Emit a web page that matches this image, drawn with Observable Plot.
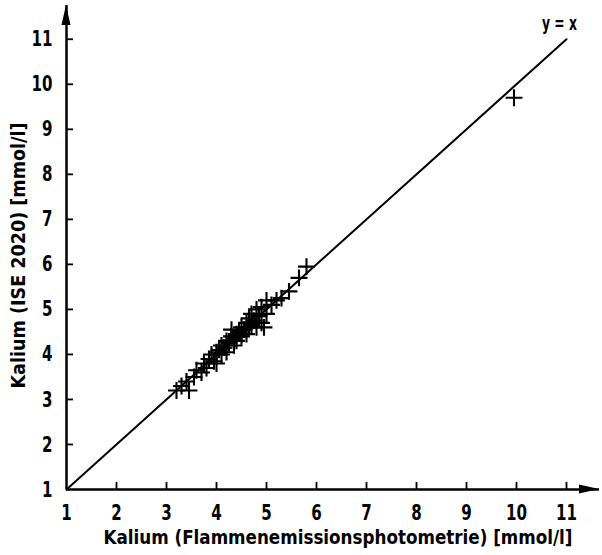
<!DOCTYPE html>
<html>
<head>
<meta charset="utf-8">
<script src="https://cdn.jsdelivr.net/npm/d3@7"></script>
<script src="https://cdn.jsdelivr.net/npm/@observablehq/plot@0.6"></script>
<style>
  html, body { margin: 0; padding: 0; background: #fff; }
  #chart svg { display: block; }
</style>
</head>
<body>
<div id="chart"></div>
<script>
// ---- data ----
const flammeX = [3.2, 3.3, 3.45, 3.4, 3.55, 3.6, 3.7, 3.75, 3.8, 3.85, 3.9, 3.95, 4.0, 4.0, 4.05, 4.1, 4.1, 4.15, 4.2, 4.2,
                 4.25, 4.3, 4.3, 4.35, 4.35, 4.4, 4.4, 4.45, 4.5, 4.5, 4.55, 4.6, 4.6, 4.65, 4.65, 4.7, 4.7, 4.75, 4.8, 4.8,
                 4.85, 4.9, 4.9, 4.95, 5.0, 5.0, 5.1, 5.2, 5.3, 5.45, 5.65, 5.8, 9.95];
const iseY    = [3.2, 3.3, 3.2, 3.4, 3.5, 3.65, 3.6, 3.8, 3.7, 3.9, 4.0, 3.85, 3.8, 4.05, 4.1, 4.0, 4.2, 4.15, 4.3, 4.05,
                 4.25, 4.4, 4.55, 4.2, 4.35, 4.45, 4.3, 4.5, 4.4, 4.6, 4.55, 4.45, 4.7, 4.6, 4.8, 4.65, 4.9, 4.75, 4.6, 5.0,
                 4.85, 4.7, 5.05, 4.6, 4.9, 5.2, 5.1, 5.2, 5.25, 5.4, 5.7, 5.95, 9.7];
const identityLine = [1, 11];
const xTicks = [1, 2, 3, 4, 5, 6, 7, 8, 9, 10, 11];
const yTicks = [1, 2, 3, 4, 5, 6, 7, 8, 9, 10, 11];
const xDomain = [1, 11.66];
const yDomain = [1, 11.75];
const xTitle = "Kalium (Flammenemissionsphotometrie) [mmol/l]";
const yTitle = "Kalium (ISE 2020) [mmol/l]";
const lineLabel = "y = x";

// ---- build ----
const points = flammeX.map((x, i) => ({x, y: iseY[i]}));
const linePts = identityLine.map(v => ({x: v, y: v}));

const W = 602, H = 555;
const mL = 66, mR = 3, mT = 5, mB = 66;
const plotW = W - mL - mR, plotH = H - mT - mB;
const font = "'DejaVu Sans', sans-serif";

function arrowHeads(index, scales) {
  const x0 = scales.x(xDomain[0]), x1 = scales.x(xDomain[1]);
  const y0 = scales.y(yDomain[0]), y1 = scales.y(yDomain[1]);
  const g = d3.create("svg:g").attr("fill", "black");
  g.append("path").attr("d", `M${x1},${y0}L${x1 - 20},${y0 - 4.5}L${x1 - 20},${y0 + 4.5}Z`);
  g.append("path").attr("d", `M${x0},${y1}L${x0 - 4.5},${y1 + 20}L${x0 + 4.5},${y1 + 20}Z`);
  return g.node();
}

const chart = Plot.plot({
  width: W, height: H,
  marginLeft: mL, marginRight: mR, marginTop: mT, marginBottom: mB,
  style: {fontFamily: font, fontWeight: "bold", color: "black", background: "white"},
  x: {domain: xDomain},
  y: {domain: yDomain},
  marks: [
    Plot.tickX(xTicks.slice(1), {x: d => d, insetTop: plotH - 7, stroke: "black", strokeWidth: 1.8}),
    Plot.tickY(yTicks.slice(1), {y: d => d, insetRight: plotW - 7, stroke: "black", strokeWidth: 1.8}),
    Plot.axisX({ticks: xTicks, tickSize: 0, tickPadding: 15, fontSize: 22, label: null, tickFormat: d => String(d)}),
    Plot.axisY({ticks: yTicks, tickSize: 0, tickPadding: 14, fontSize: 22, label: null, tickFormat: d => String(d)}),
    Plot.ruleY([yDomain[0]], {stroke: "black", strokeWidth: 2.5}),
    Plot.ruleX([xDomain[0]], {stroke: "black", strokeWidth: 2.5}),
    arrowHeads,
    Plot.line(linePts, {x: "x", y: "y", stroke: "black", strokeWidth: 2}),
    Plot.dot(points, {x: "x", y: "y", symbol: "plus", r: 5.5, stroke: "black", strokeWidth: 2.1}),
    Plot.text([lineLabel], {x: identityLine[1], y: identityLine[1], dx: -7, dy: -16, fontSize: 20, text: d => d}),
    Plot.text([xTitle], {frameAnchor: "bottom-left", dx: 37, dy: 54, textAnchor: "start", fontSize: 19, text: d => d}),
    Plot.text([yTitle], {frameAnchor: "left", dx: -48, dy: 141, textAnchor: "start", rotate: -90, fontSize: 19, text: d => d})
  ]
});

// condense the bold type to the narrow lettering of the reference
const fixedLengths = new Map([[xTitle, 469], [yTitle, 266], [lineLabel, 35]]);
chart.querySelectorAll("text").forEach(t => {
  const s = t.textContent;
  let len = null;
  if (fixedLengths.has(s)) len = fixedLengths.get(s);
  else if (/^\d+$/.test(s)) len = 10.5 * s.length;
  if (len != null) {
    t.setAttribute("textLength", len);
    t.setAttribute("lengthAdjust", "spacingAndGlyphs");
  }
});

document.getElementById("chart").appendChild(chart);
</script>
</body>
</html>
